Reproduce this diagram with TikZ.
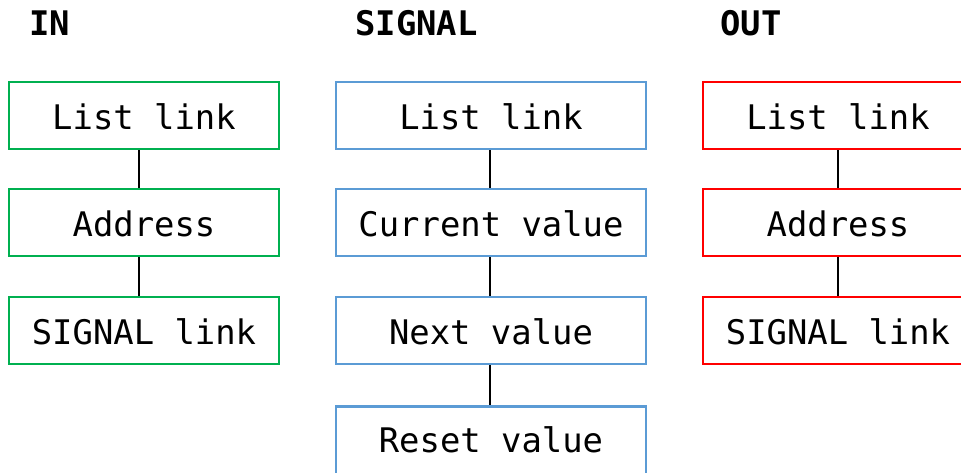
\documentclass[tikz,border=0pt]{standalone}
\usepackage{fontspec}
\setmonofont{DejaVu Sans Mono}
\begin{document}
\begin{tikzpicture}[x=0.75pt,y=-0.75pt,
  box/.style={draw=#1,line width=2pt,rectangle,minimum height=67*0.75pt,inner sep=0pt,
    font=\ttfamily\fontsize{25.4}{30}\selectfont,text height=21.5pt,text depth=0pt},
  hdr/.style={anchor=base west,inner sep=0pt,font=\ttfamily\bfseries\fontsize{25.4}{30}\selectfont},
  link/.style={line width=2pt,black}]
\definecolor{cgreen}{RGB}{0,176,80}
\definecolor{cblue}{RGB}{91,155,213}
\definecolor{cred}{RGB}{255,0,0}
\useasboundingbox (0,0) rectangle (961,472);
\node[hdr] (hin) at (29,35) {IN};
\node[hdr] (hsig) at (355,35) {SIGNAL};
\node[hdr] (hout) at (720,35) {OUT};
% IN column
\begin{scope}[every node/.style={box=cgreen,minimum width=270*0.75pt}]
\node (g1) at (144,115.5) {List link};
\node (g2) at (144,222.5) {Address};
\node (g3) at (144,330.5) {SIGNAL link};
\end{scope}
% SIGNAL column
\begin{scope}[every node/.style={box=cblue,minimum width=310*0.75pt}]
\node (b1) at (491,115.5) {List link};
\node (b2) at (491,222.5) {Current value};
\node (b3) at (491,330.5) {Next value};
\node[minimum height=75*0.75pt,text height=18.5pt,text depth=6.5pt] (b4) at (491,444) {Reset value};
\end{scope}
% OUT column
\begin{scope}[every node/.style={box=cred,minimum width=270*0.75pt}]
\node (r1) at (838,115.5) {List link};
\node (r2) at (838,222.5) {Address};
\node (r3) at (838,330.5) {SIGNAL link};
\end{scope}
\draw[link] ([xshift=-3.75pt]g1.south) -- ([xshift=-3.75pt]g2.north);
\draw[link] ([xshift=-3.75pt]g2.south) -- ([xshift=-3.75pt]g3.north);
\draw[link] ([xshift=-0.75pt]b1.south) -- ([xshift=-0.75pt]b2.north);
\draw[link] ([xshift=-0.75pt]b2.south) -- ([xshift=-0.75pt]b3.north);
\draw[link] ([xshift=-0.75pt]b3.south) -- ([xshift=-0.75pt]b4.north);
\draw[link] (r1.south) -- (r2.north);
\draw[link] (r2.south) -- (r3.north);
\end{tikzpicture}
\end{document}
